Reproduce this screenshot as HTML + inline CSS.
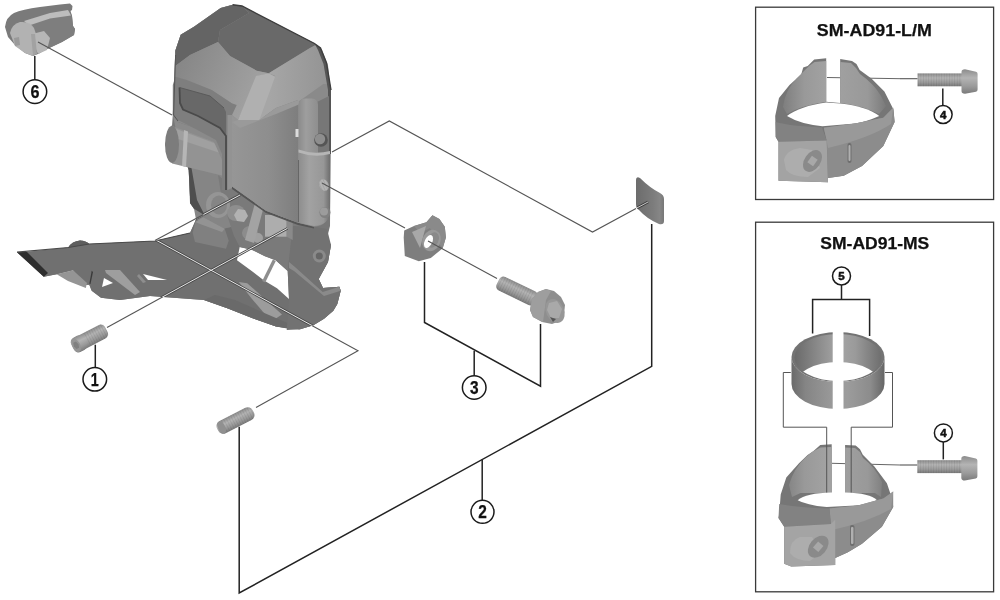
<!DOCTYPE html>
<html><head><meta charset="utf-8"><style>
html,body{margin:0;padding:0;background:#fff;width:1000px;height:600px;overflow:hidden}
svg{display:block;will-change:transform}
text{font-family:"Liberation Sans",sans-serif;font-weight:bold;fill:#111;stroke:#111;stroke-width:0.25}
</style></head><body>
<svg width="1000" height="600" viewBox="0 0 1000 600">
<defs>
<clipPath id="fdclip"><path d="M17 252.2 L27 252 L68.3 247.5 L80 240.5 L89.3 244 L155 241 L190 233 L196 219.5 L204.7 215.3 L194 208.7 L190 203 L188.7 170 L186.8 164 L172 163 L165 144.5 L172 126 L172.8 115 L175.3 50.7 L180.7 34.7 L194 26.7 L220.7 8 L232.7 4.7 L242 6 L314.5 43.5 L320.5 48 L326.5 63 L331 90 L330 226 L327 238 L331 245 L328 262 L318.7 279 L323 288 L339.3 286.7 L340.7 290.7 L337.3 304 L333.3 310.7 L324 318.7 L313.3 325.3 L300 329.3 L287 328 L276 326.4 L252 318 L228 308.4 L204 300 L150 296 L120 300 L101 297.7 L91.7 290.7 L89.3 284.8 L85.8 284.8 L73 270.3 L56.7 274.3 L43.8 276.7 Z"/></clipPath>
<linearGradient id="cyl" x1="0" y1="0" x2="0" y2="1">
  <stop offset="0" stop-color="#8c8c8c"/><stop offset="0.35" stop-color="#b4b4b4"/><stop offset="0.7" stop-color="#9a9a9a"/><stop offset="1" stop-color="#7a7a7a"/>
</linearGradient>
<pattern id="thr" width="2.6" height="20" patternUnits="userSpaceOnUse">
  <rect width="2.6" height="20" fill="none"/><rect x="0" width="0.9" height="20" fill="#000" opacity="0.08"/>
</pattern>
<linearGradient id="ringg" x1="0" y1="0" x2="1" y2="0">
  <stop offset="0" stop-color="#6a6a6a"/><stop offset="0.15" stop-color="#858585"/><stop offset="0.45" stop-color="#9a9a9a"/><stop offset="0.6" stop-color="#9c9c9c"/><stop offset="0.85" stop-color="#8c8c8c"/><stop offset="1" stop-color="#666"/>
</linearGradient>
<linearGradient id="ringin" x1="0" y1="0" x2="1" y2="0">
  <stop offset="0" stop-color="#6a6a6a"/><stop offset="0.3" stop-color="#8e8e8e"/><stop offset="0.5" stop-color="#a6a6a6"/><stop offset="0.7" stop-color="#9a9a9a"/><stop offset="1" stop-color="#6e6e6e"/>
</linearGradient>
<linearGradient id="f3g" x1="175" y1="60" x2="260" y2="100" gradientUnits="userSpaceOnUse">
  <stop offset="0" stop-color="#858585"/><stop offset="1" stop-color="#a3a3a3"/>
</linearGradient>
<linearGradient id="f1g" x1="180" y1="60" x2="240" y2="10" gradientUnits="userSpaceOnUse">
  <stop offset="0" stop-color="#5e5e5e"/><stop offset="1" stop-color="#565656"/>
</linearGradient>
<linearGradient id="f6g" x1="232" y1="0" x2="298" y2="0" gradientUnits="userSpaceOnUse">
  <stop offset="0" stop-color="#969696"/><stop offset="0.55" stop-color="#8e8e8e"/><stop offset="1" stop-color="#7e7e7e"/>
</linearGradient>
<linearGradient id="padg" x1="636" y1="0" x2="664" y2="0" gradientUnits="userSpaceOnUse">
  <stop offset="0" stop-color="#6c6c6c"/><stop offset="0.6" stop-color="#7c7c7c"/><stop offset="0.85" stop-color="#868686"/><stop offset="1" stop-color="#777"/>
</linearGradient>
<linearGradient id="postg1" x1="298" y1="0" x2="318" y2="0" gradientUnits="userSpaceOnUse">
  <stop offset="0" stop-color="#8a8a8a"/><stop offset="0.4" stop-color="#9e9e9e"/><stop offset="1" stop-color="#8e8e8e"/>
</linearGradient>
<linearGradient id="postg2" x1="298" y1="0" x2="330" y2="0" gradientUnits="userSpaceOnUse">
  <stop offset="0" stop-color="#8c8c8c"/><stop offset="0.35" stop-color="#a2a2a2"/><stop offset="0.8" stop-color="#979797"/><stop offset="1" stop-color="#6e6e6e"/>
</linearGradient>
<linearGradient id="f4g" x1="270" y1="0" x2="330" y2="0" gradientUnits="userSpaceOnUse">
  <stop offset="0" stop-color="#a6a6a6"/><stop offset="1" stop-color="#939393"/>
</linearGradient>
<linearGradient id="clw" x1="783" y1="0" x2="826" y2="0" gradientUnits="userSpaceOnUse">
  <stop offset="0" stop-color="#7e7e7e"/><stop offset="0.5" stop-color="#999"/><stop offset="1" stop-color="#a2a2a2"/>
</linearGradient>
<linearGradient id="crw" x1="840" y1="0" x2="886" y2="0" gradientUnits="userSpaceOnUse">
  <stop offset="0" stop-color="#a0a0a0"/><stop offset="0.6" stop-color="#999"/><stop offset="1" stop-color="#7a7a7a"/>
</linearGradient>
</defs>
<rect width="1000" height="600" fill="#fff"/>

<!-- boxes -->
<rect x="755.6" y="7.2" width="238" height="192.3" fill="none" stroke="#3a3a3a" stroke-width="1.3"/>
<rect x="755.6" y="222.2" width="238" height="369.6" fill="none" stroke="#3a3a3a" stroke-width="1.3"/>
<text x="816.8" y="35.8" font-size="16" textLength="115" lengthAdjust="spacingAndGlyphs">SM-AD91-L/M</text>
<text x="820.3" y="248.6" font-size="16" textLength="109" lengthAdjust="spacingAndGlyphs">SM-AD91-MS</text>

<!-- DERAILLEUR -->
<g id="fd">
  <path d="M17 252.2 L27 252 L68.3 247.5 L80 240.5 L89.3 244 L155 241 L190 233 L196 219.5 L204.7 215.3 L194 208.7 L190 203 L188.7 170 L186.8 164 L172 163 L165 144.5 L172 126 L172.8 115 L175.3 50.7 L180.7 34.7 L194 26.7 L220.7 8 L232.7 4.7 L242 6 L314.5 43.5 L320.5 48 L326.5 63 L331 90 L330 226 L327 238 L331 245 L328 262 L318.7 279 L323 288 L339.3 286.7 L340.7 290.7 L337.3 304 L333.3 310.7 L324 318.7 L313.3 325.3 L300 329.3 L287 328 L276 326.4 L252 318 L228 308.4 L204 300 L150 296 L120 300 L101 297.7 L91.7 290.7 L89.3 284.8 L85.8 284.8 L73 270.3 L56.7 274.3 L43.8 276.7 Z" fill="#777"/>
  <!-- cage outer plate -->
  <path d="M17 252.2 L27 252 L68.3 247.5 Q72 241 80 240.5 Q86 240.5 89.3 244 L155 241 L190 233 L196 219.5 L224.5 228.5 L240 225 L290 236 L326 238 L331 245 L328 262 L318.7 279 L323 288 L339.3 286.7 L340.7 290.7 L337.3 304 L333.3 310.7 L324 318.7 L313.3 325.3 L300 329.3 L287 328 L276 326.4 L252 318 L228 308.4 L204 300 L150 296 L120 300 L101 297.7 L91.7 290.7 L89.3 284.8 L85.8 284.8 L73 270.3 L56.7 274.3 L43.8 276.7 Z" fill="#707070"/>
  <path d="M17 252.2 L27 252 L48 273 L43.8 276.7 Z" fill="#2e2e2e"/>
  <path d="M68.3 247.5 Q72 241 80 240.5 Q86 240.5 89.3 244 Z" fill="#5e5e5e"/>
  <path d="M17 252.2 L68.3 247.5 L89.3 244 L155 241 L190 233" fill="none" stroke="#4a4a4a" stroke-width="1.2"/>
  <!-- light flanges -->
  <path d="M56.7 274.3 L73 270.3 L87 283 L85.8 288 L68 281 Z" fill="#959595"/>
  <path d="M105 270 L120 270 L140 292 L135 295 L106 273 Z" fill="#9e9e9e"/>
  <path d="M139 274 L146 282 L143 283 L137 276 Z" fill="#8e8e8e"/>
  <path d="M143 274 L167 280 L148 280 Z" fill="#fff"/>
  <path d="M104 278 L113 283 L102 287 Z" fill="#fff"/>
  <path d="M91.7 270.8 L93 272 L90.5 284 L89.3 283.7 Z" fill="#3a3a3a"/>
  <!-- right cage lower light -->
  <path d="M238.8 282 L247.2 283.2 L282 314.4 L271.2 321.6 L250.8 297.6 Z" fill="#9c9c9c"/>
  <path d="M204 300 L228 308.4 L252 318 L276 326.4 L290 329 L300 329.3 L290 324 L262 312 L235 300 L215 295 Z" fill="#6a6a6a"/>
  <!-- white hole between arms -->
  <path d="M239.7 247 L251.7 249.7 L265 256.3 L275.7 260.3 L287.7 271 L289 299 L277 288.3 L263.7 280.3 L251.7 271 L237 260.3 Z" fill="#fff"/>
  <path d="M272.8 259.5 L275.8 261 L265.2 282.5 L262.2 281 Z" fill="#8e8e8e"/>
  <!-- right inner plate -->
  <path d="M292.7 222 L314 226.7 L327 229 L331 245 L328 262 L318.7 279 L323 288 L339.3 286.7 L340.7 290.7 L337.3 304 L333.3 310.7 L324 318.7 L313.3 325.3 L300 329.3 L286.7 330 L289 299 L287.7 271 Z" fill="#727272"/>
  <path d="M289 262 L294.7 266.7 L322.7 292 L339.3 286.7 L340.7 290.7 L324 296 L294 271 L289 268 Z" fill="#8a8a8a"/>
  <circle cx="319.3" cy="256" r="6.5" fill="#8a8a8a"/>
  <circle cx="319.3" cy="256" r="3.5" fill="#666"/>
  <!-- gap filler2 left under panel -->
  <path d="M172.8 115 L178 122 L210 133 L226 146 L232 185 L226 190 L205 160 L176 130 Z" fill="#8a8a8a"/>
  <!-- link plate -->
  <path d="M186.8 164 L221 170 L232 205 L240 225 L224.5 228.5 L196 219.5 L194 208.7 L190 203 L190 196.7 L188.7 170 Z" fill="#858585"/>
  <path d="M186.8 164 L191 165 L197 200 L204.7 215.3 L194 208.7 L190 203 L190 196.7 L188.7 170 Z" fill="#4e4e4e"/>
  <!-- hinge cylinder -->
  <path d="M171 125.5 L222 145 L224 176 L172 163.5 Z" fill="#939393"/>
  <path d="M171 127 L222 146 L223 154 L172 137 Z" fill="#a0a0a0"/>
  <path d="M184 130 L188 131.5 L186 167 L182 166 Z" fill="#b6b6b6"/>
  <ellipse cx="172" cy="144.5" rx="7" ry="18.5" fill="#7c7c7c"/>
  <!-- mechanism area -->
  <path d="M218 175 L228.7 184 L266 210.7 L298 222.7 L314 226.7 L292.7 226 L287.7 271 L275.7 260.3 L265 256.3 L251.7 249.7 L239.7 247 L234 236 L222 200 Z" fill="#7a7a7a"/>
  <ellipse cx="218" cy="205" rx="12" ry="13" fill="#959595"/>
  <ellipse cx="219" cy="205" rx="8" ry="9.5" fill="#858585"/>
  <path d="M192.7 232.7 L195.3 222 L203.3 217.3 L224.7 228.7 L228.7 240.7 L226 248.7 L195 242 Z" fill="#808080"/>
  <path d="M195.3 222 L203.3 217.3 L224.7 228.7 L222 232 L200 224 Z" fill="#939393"/>
  <path d="M265 215 L286.7 215 L286.7 236.7 L265 236.7 Z" fill="#adadad"/>
  <path d="M286.7 215 L292.7 221 L292.7 240 L286.7 236.7 Z" fill="#8a8a8a"/>
  <ellipse cx="236" cy="213" rx="9" ry="8" fill="#8e8e8e"/>
  <path d="M238 209 L245 210 L248 216 L244 222 L237 221 L234 215 Z" fill="#b2b2b2"/>
  <ellipse cx="250" cy="233" rx="8" ry="7" fill="#8c8c8c"/>
  <ellipse cx="258" cy="238" rx="5" ry="5" fill="#a0a0a0"/>
  <path d="M255 203 L264 206 L254 243 L245 240 Z" fill="#a3a3a3"/>
  <path d="M232 186.5 L266 210.7 L298 222.7 L314 226.7 L314 228.5 L298 225 L266 213 L232 189 Z" fill="#555"/>
  <!-- body cover silhouette -->
  <path d="M175.3 50.7 L180.7 34.7 L194 26.7 L220.7 8 L232.7 4.7 L242 6 L314.5 43.5 L320.5 48 L326.5 63 L331 90 L330 210.7 Q328 226 314 226.7 L298 222.7 L266 210.7 L228.7 184 L222 160 L210 133 L178 122 L172.8 115 Z" fill="#8a8a8a"/>
  <!-- F1 dark top-left -->
  <path d="M175.3 66 L175.3 50.7 L180.7 34.7 L194 26.7 L220.7 8 L232.7 4.7 L242 6 L249 13 L220 30 L218 42 L205 48 L190 55 Z" fill="#646464"/>
  <!-- F2 top -->
  <path d="M249 13 L242 6 L314.5 43.5 L315.3 45.3 L310 48 L279.3 66.7 L268.7 73.3 L256.7 70.7 L230 56 L218 42 L220 30 Z" fill="#696969"/>
  <!-- F3 chamfer left -->
  <path d="M175.3 66 L190 55 L205 48 L218 42 L230 56 L256.7 70.7 L268.7 73.3 L258 76 L238 120 L232 115 L231.7 103.3 L211.7 90 L186.7 80 L175.3 76.7 Z" fill="url(#f3g)"/>
  <path d="M256 76 L268.7 73.3 L278 78 L262 120 L238 120 Z" fill="#b0b0b0"/>
  <!-- F4 front-top right -->
  <path d="M268.7 73.3 L279.3 66.7 L310 48 L315.3 45.3 L322 50 L328 65 L330 84 L323.3 84 L304.7 97.3 L296.7 102.7 L276 108 L259.3 120 L275.3 76 Z" fill="url(#f4g)"/>
  <!-- right side dark rim -->
  <path d="M314.5 43.5 L320.5 48 L326.5 63 L331 90 L331 154 L328.5 154 L328 90 L323.5 64 L318 50 Z" fill="#555"/>
  <path d="M232.7 4.7 L242 6 L314.5 43.5 L320.5 48 L326.5 63 L331 90" fill="none" stroke="#3e3e3e" stroke-width="1.4"/>
  <!-- F6 front face -->
  <path d="M232 115 L238 120 L259.3 120 L276 108 L298 100 L298 222.7 L266 210.7 L232 186.5 Z" fill="url(#f6g)"/>
  <path d="M238 120 L259.3 120 L276 108 L298 100 L300 104 L276 114 L240 128 L232 122 Z" fill="#9a9a9a"/>
  <!-- post -->
  <path d="M317 102 L329 96 L329 154 L317 154 Z" fill="#777"/>
  <path d="M298.5 104 Q299 98.5 306 98.5 L312 98.5 Q318 99 318 105 L318 153 L298.5 151 Z" fill="url(#postg1)"/>
  <path d="M298.5 151 Q314 156 330 152 L330 212 Q329 225 314 226 L298.5 222.7 Z" fill="url(#postg2)"/>
  <path d="M298.5 149.5 Q314 155 330 151 L330 154 Q314 158 298.5 152.5 Z" fill="#b6b6b6"/>
  <path d="M298.5 160 L298.5 222" stroke="#666" stroke-width="1" fill="none"/>
  <circle cx="321" cy="140" r="6.8" fill="#555"/>
  <circle cx="320" cy="139" r="5.2" fill="#8e8e8e"/>
  <ellipse cx="324" cy="185" rx="4.5" ry="6" transform="rotate(-25 324 185)" fill="#b4b4b4"/>
  <ellipse cx="324" cy="185" rx="4.5" ry="6" transform="rotate(-25 324 185)" fill="url(#thr)"/>
  <circle cx="325" cy="212.5" r="5.5" fill="#808080"/>
  <circle cx="324" cy="211.5" r="4" fill="#9c9c9c"/>
  <path d="M295.5 129 L298.5 129 L298.5 137 L295.5 137 Z" fill="#dcdcdc"/>
  <!-- left panel -->
  <path d="M172.8 85 L175.3 76.7 L186.7 80 L211.7 90 L231.7 103.3 L236.7 105 L232 115 L232 190 L222 190 L222 154 L216 140 L190 126 L176 119 L172.8 115 Z" fill="#7e7e7e"/>
  <path d="M179.5 87.5 L210 96 L224 108 L226 112 L226 136 L220 128 L198 116 L183 109.5 L180 103 Z" fill="#686868"/>
  <path d="M179.5 87.5 L180 103 L183 109.5 L198 116 L220 128 L226 136 L226 190" fill="none" stroke="#4a4a4a" stroke-width="1.8"/>
  <path d="M179.5 87.5 L210 96 L224 108" fill="none" stroke="#5a5a5a" stroke-width="1"/>
  <path d="M175.6 55 L173.6 115 L178 121" fill="none" stroke="#555" stroke-width="1"/>
  <path d="M227.5 115 L232 115 L232 188 L227.5 190 Z" fill="#939393"/>
</g>
<!-- PARTS -->
<g id="parts">
<!-- part 6 -->
<g>
  <path d="M5 27 Q6 17 14 13 Q22 9.5 40 7 L60 4.5 L70 3.5 L72.5 6 L72 10 L70.5 11 L72 16 L73 26 L75 29 L74 35 L62 42 L45 50 L38 54 L33 56 L25 53 L15 45 L8 37 Z" fill="#7a7a7a"/>
  <path d="M22 22 L45 14 L70 11 L72 16 L73 26 L75 29 L74 35 L62 42 L45 50 L38 54 L34 40 Z" fill="#7e7e7e"/>
  <path d="M24 21 L50 13 L68 10 L71 15.5 L50 18.5 L29 25.5 Z" fill="#bdbdbd"/>
  <path d="M10 33 Q12 24 20 22 Q30 21 34 28 L38 40 L36 50 L33 56 L25 53 L15 46 Z" fill="#b2b2b2"/>
  <path d="M32 34 L44 31 L50 38 L47 50 L38 54 L35 47 Z" fill="#b6b6b6"/>
  <path d="M31 34 L35 34 L37 54 L33 56 Z" fill="#a2a2a2"/>
  <path d="M14 38 L19 37 L20 45 L15 46 Z" fill="#9a9a9a"/>
</g>
<!-- bolts 4 -->
<g id="b4">
  <rect x="917.5" y="73.4" width="45" height="12.9" fill="url(#cyl)"/>
  <rect x="917.5" y="73.4" width="45" height="12.9" fill="url(#thr)"/>
  <path d="M961.5 72 Q961.5 69.3 965 69.3 L976 71.7 Q977.6 72 977.6 74 L977.6 89.5 Q977.6 91.5 976 91.8 L965 93.8 Q961.5 93.8 961.5 91 Z" fill="url(#cyl)"/>
</g>
<use href="#b4" transform="translate(-0.2 386.8)"/>
<!-- ring 5 -->
<g>
  <ellipse cx="838" cy="357" rx="46.5" ry="25" fill="#737373"/>
  <ellipse cx="838" cy="357.5" rx="43.5" ry="23.5" fill="url(#ringin)"/>
  <clipPath id="ringclip"><ellipse cx="838" cy="357.5" rx="43.5" ry="23.5"/></clipPath>
  <ellipse cx="838" cy="385.5" rx="43.5" ry="23.5" fill="#fff" clip-path="url(#ringclip)"/>
  <path d="M791.5 357 A46.5 25 0 0 0 884.5 357 L884.5 384 A46.5 25 0 0 1 791.5 384 Z" fill="url(#ringg)"/>
  <path d="M832.7 328 L843.5 328 L843.5 412 L832.7 412 Z" fill="#fff"/>
</g>
<!-- clamp -->
<path d="M827 77.5 L900 78.7" stroke="#666" stroke-width="1" fill="none"/>
<path d="M832 463.3 L900 465" stroke="#666" stroke-width="1" fill="none"/>
<g id="clamp">
  <path d="M814.2 59.6 L826.2 58.3 L826.2 101.8 L840.2 103.1 L840.2 58.9 L852 60.9 L856.5 64 L859.7 70 L871.4 78.4 L884.4 91.4 L893.5 109.6 L894.6 122 L883.3 146 L862 166 L843.7 175.8 L828 178 L828 182.2 L778.5 180.8 L778.5 141.8 L775.7 137 L775.2 116 L779 98 L789.5 85 L801.2 74.5 L803.2 67.4 L807.7 66 Z" fill="#767676"/>
  <path d="M809 66 L814.5 62 L826.2 61 L826.2 101.8 Q800 106 787 114 L783 107 Q785 90 797 78 Z" fill="url(#clw)"/>
  <path d="M840.2 62 L851 63 L856 68 L860 74 Q874 84 881 96 L886 106 L879 114 Q860 105 840.2 103.1 Z" fill="url(#crw)"/>
  <path d="M787 116 Q800 106 826.2 102.5 L840.2 103.5 Q866 106 879.2 116 Q866 122 855 123.4 L822.4 126.2 Q800 124 787 116 Z" fill="#fff"/>
  <path d="M823.8 127.7 L855 123.4 L883.3 117.7 L893.2 107.8 L894.6 122 L883.3 146 L862 166 L843.7 175.8 L828 178 L826.7 140.4 Z" fill="#8c8c8c"/>
  <path d="M823.8 127.7 L855 123.4 L883.3 117.7 L893.2 107.8 L891 124 Q870 138 828 148 L826.7 140.4 Z" fill="#999"/>
  <path d="M775.7 122 Q790 126 822 127.5 L826.7 140.4 L778.5 141.8 L775.7 137 Z" fill="#828282"/>
  <path d="M778.5 141.8 L826.7 140.4 L828 182.2 L778.5 180.8 Z" fill="#a3a3a3"/>
  <path d="M784 160 Q786 150 800 148 L812 150 L820 168 L808 177 Q792 177 786 170 Z" fill="#adadad"/>
  <ellipse cx="812.5" cy="161" rx="8" ry="12" transform="rotate(35 812.5 161)" fill="#8a8a8a"/>
  <rect x="809" y="157" width="7" height="8" transform="rotate(35 812.5 161)" fill="#a8a8a8"/>
  <rect x="847.5" y="143" width="4" height="20" rx="2" fill="#6e6e6e"/>
  <rect x="848.5" y="145" width="2" height="16" rx="1" fill="#b0b0b0"/>
</g>
<g id="clamp2">
  <path d="M820.3 444.9 L831.7 444.2 L831.7 493 L845.1 493 L845.1 444.9 L855.7 445.6 L860 449.2 L862.8 454.8 L874.2 466.2 L886.9 483.2 L892.6 500.2 L893.2 507 L881.9 526.8 L862 543.8 L847.9 552.3 L835.2 558 L835.2 565 L791.2 566.5 L784.2 563.7 L784.2 526.8 L778.5 518 L779.2 514.3 L780.7 494.5 L786.3 477.5 L799 463.3 L807.6 455 L813.2 451.3 Z" fill="#767676"/>
  <path d="M812 452 L820.3 447.5 L831.7 447 L831.7 493 L800.5 493 L792 497 L789 485 Q794 468 805 458 Z" fill="url(#clw)"/>
  <path d="M845.1 447.5 L855 448 L860 452 L863 458 Q876 468 882 482 L881 497 L875 493 L845.1 493 Z" fill="url(#crw)"/>
  <path d="M797.7 500.2 Q806 493 831.7 492.5 L845.1 492.5 Q870 493 877 500.2 Q866 505 855 505.6 L826.7 507 Q806 505 797.7 500.2 Z" fill="#fff"/>
  <path d="M829.5 508.4 L857.8 505.6 L883.3 498.5 L893.2 491.4 L893.2 507 L881.9 526.8 L862 543.8 L847.9 552.3 L835.2 558 L830.9 524 Z" fill="#8c8c8c"/>
  <path d="M829.5 508.4 L857.8 505.6 L883.3 498.5 L893.2 491.4 L891 509 Q868 522 832 530 L830.9 524 Z" fill="#999"/>
  <path d="M779.2 504 Q800 508 829.5 508.4 L830.9 524 L784.2 526.8 L778.5 518 Z" fill="#828282"/>
  <path d="M784.2 526.8 L830.9 524 L835.2 519.7 L835.2 565 L791.2 566.5 L784.2 563.7 Z" fill="#a4a4a4"/>
  <path d="M790 553 Q790 540 800 537 L812 537 L822 552 L810 561 Q796 561 790 553 Z" fill="#adadad"/>
  <ellipse cx="818.2" cy="546.7" rx="8.5" ry="12.5" transform="rotate(40 818.2 546.7)" fill="#8a8a8a"/>
  <rect x="814.7" y="542.7" width="7" height="8" transform="rotate(40 818.2 546.7)" fill="#a8a8a8"/>
  <rect x="850" y="525" width="4.5" height="21" rx="2" fill="#6e6e6e"/>
  <rect x="851" y="527" width="2.5" height="17" rx="1" fill="#b0b0b0"/>
</g>
<!-- nut -->
<g>
  <path d="M404.2 230.5 L414 226 L426.4 222.3 L432.4 215.3 L439.4 219 L444.8 226.7 L445.9 237.5 L442.7 248.3 L430.8 258 L418.8 261.3 L404.8 256 L403.7 237.5 Z" fill="#7e7e7e"/>
  <path d="M414 226 L426.4 222.3 L432.4 215.3 L439.4 219 L444.8 226.7 L445.9 237.5 L442.7 248.3 L436 240 L430 228 L420 233 Z" fill="#8a8a8a"/>
  <path d="M412 232 L426 226 L420 248 Z" fill="#a8a8a8"/>
  <ellipse cx="431.5" cy="240.5" rx="9" ry="11" transform="rotate(25 431.5 240.5)" fill="#999"/>
  <ellipse cx="433" cy="240" rx="5.5" ry="8" transform="rotate(25 433 240)" fill="#8a8a8a"/>
  <ellipse cx="428.5" cy="241.5" rx="3.8" ry="7" transform="rotate(25 428.5 241.5)" fill="#fff"/>
</g>
<!-- bolt 3 -->
<g transform="translate(516 290.5) rotate(25.8)">
  <rect x="-20" y="-7.6" width="42" height="15.2" rx="4.5" fill="url(#cyl)"/>
  <rect x="-20" y="-7.6" width="38" height="15.2" rx="4.5" fill="url(#thr)"/>
</g>
<g>
  <path d="M530 310 L532 299 L538 292 L546 289 L554 291 L561 297 L565 305 L564 314 L560 321 L552 324 L542 322 L533 317 Z" fill="#8e8e8e"/>
  <path d="M532 299 L538 292 L546 289 L551 291 L546 300 L543 322 L533 317 L530 310 Z" fill="#9e9e9e"/>
  <ellipse cx="555" cy="311" rx="9" ry="12.5" transform="rotate(-25 555 311)" fill="#979797"/>
  <path d="M549 303 L557 301 L562 309 L559 318 L551 318 L547 310 Z" fill="#a9a9a9"/>
  <path d="M550 317 L556 319 L553 322 Z" fill="#555"/>
</g>
<!-- pad -->
<clipPath id="padclip"><path d="M636 180 Q636 176 640 178 Q650 188 660 193 Q664 195 664 199 L664 221 Q664 225 659 224 Q647 219 639 210 Q636 208 636 204 Z"/></clipPath>
<path d="M636 180 Q636 176 640 178 Q650 188 660 193 Q664 195 664 199 L664 221 Q664 225 659 224 Q647 219 639 210 Q636 208 636 204 Z" fill="url(#padg)"/>
<g clip-path="url(#padclip)" fill="none">
  <path d="M620 217 L648 202" stroke="#3e3e3e" stroke-width="2.6"/>
  <path d="M620 217 L648 202" stroke="#d8d8d8" stroke-width="0.9"/>
</g>
<!-- screw 1 -->
<g transform="translate(89.5 338.3) rotate(-27.5)">
  <rect x="-19" y="-7.5" width="38" height="15" rx="5" fill="url(#cyl)"/>
  <rect x="-4" y="-7.5" width="23" height="15" rx="4" fill="url(#thr)"/>
  <rect x="-19" y="-8" width="14" height="16" rx="5" fill="url(#cyl)"/>
  <ellipse cx="-15" cy="0" rx="4" ry="7.2" fill="#959595"/>
  <path d="M-16.5 -3.5 L-13.5 -3.5 L-12.5 0 L-13.5 3.5 L-16.5 3.5 L-17.5 0 Z" fill="#808080"/>
</g>
<!-- screw 2 -->
<g transform="translate(235.5 420.5) rotate(-27)">
  <rect x="-20" y="-6.8" width="40" height="13.6" rx="5.5" fill="url(#cyl)"/>
  <rect x="-20" y="-6.8" width="40" height="13.6" rx="5.5" fill="url(#thr)"/>
  <ellipse cx="-15.5" cy="0" rx="3.5" ry="6.5" fill="#909090"/>
</g>
</g>

<!-- thin leader lines -->
<g fill="none" stroke="#555" stroke-width="1.1">
  <path d="M38 42 L172 115"/>
  <path d="M322 183 L405 228 M428 241 L497 278.6"/>
  <path d="M256 407.5 L358 350.7 L155.8 240 L240 195"/>
  <path d="M107 327.5 L287.5 228.3"/>
</g>
<g fill="none" clip-path="url(#fdclip)">
  <path d="M358 350.7 L155.8 240 L240 195 M107 327.5 L287.5 228.3" stroke="#4a4a4a" stroke-width="2.6"/>
  <path d="M358 350.7 L155.8 240 L240 195 M107 327.5 L287.5 228.3" stroke="#e8e8e8" stroke-width="1"/>
</g>
<g fill="none" stroke="#555" stroke-width="1.1">
  <path d="M332 152 L389.3 121 L592.5 232 L636 208.5"/>
  <path d="M900 78.7 L917.5 78.7"/>
  <path d="M900 465 L917.3 465"/>
</g>

<!-- heavy leader lines -->
<g fill="none" stroke="#222" stroke-width="1.5">
  <path d="M34.8 56 L34.8 79.8"/>
  <path d="M95.3 344.7 L95.3 367"/>
  <path d="M424.5 262 L424.5 322.5 L540.5 386.2 L540.5 324"/>
  <path d="M474.2 350.8 L474.2 375.5"/>
  <path d="M239.2 426.7 L239.2 593 L651.7 366.4 L651.7 224"/>
  <path d="M482.2 459.5 L482.2 500"/>
  <path d="M942.8 88.6 L942.8 105.5"/>
  <path d="M943.3 441.5 L943.3 459.4"/>
  <path d="M841.5 284.7 L841.5 299.6 M812.6 333.4 L812.6 299.6 L869.6 299.6 L869.6 336"/>
</g>
<g fill="none" stroke="#555" stroke-width="1">
  <path d="M783.3 372.5 L783.3 427.2 L826.7 427.2 L826.7 492.5"/>
  <path d="M892.5 372.5 L892.5 427.2 L851.2 427.2 L851.2 492.5"/>
  <path d="M790.8 372.5 L783.3 372.5 M885 372.5 L892.5 372.5"/>
</g>

<!-- number circles -->
<g fill="#fff" stroke="#1a1a1a" stroke-width="1.5">
  <circle cx="34.9" cy="91.6" r="11.8"/>
  <circle cx="94.8" cy="379.3" r="11.8"/>
  <circle cx="474.2" cy="387.5" r="11.8"/>
  <circle cx="482.5" cy="511.8" r="11.5"/>
  <circle cx="943.1" cy="114.5" r="9"/>
  <circle cx="943.4" cy="432.9" r="9"/>
  <circle cx="841.5" cy="276" r="9"/>
</g>
<g text-anchor="middle">
  <text x="34.9" y="97.6" font-size="18" textLength="9" lengthAdjust="spacingAndGlyphs">6</text>
  <text x="94.8" y="385.8" font-size="18" textLength="8" lengthAdjust="spacingAndGlyphs">1</text>
  <text x="474.2" y="394" font-size="18" textLength="8.6" lengthAdjust="spacingAndGlyphs">3</text>
  <text x="482.5" y="518.3" font-size="18" textLength="8.6" lengthAdjust="spacingAndGlyphs">2</text>
  <text x="943.1" y="118.9" font-size="11.5" style="stroke-width:0.5">4</text>
  <text x="943.4" y="437.3" font-size="11.5" style="stroke-width:0.5">4</text>
  <text x="841.5" y="280.4" font-size="11.5" style="stroke-width:0.5">5</text>
</g>
</svg>
</body></html>
